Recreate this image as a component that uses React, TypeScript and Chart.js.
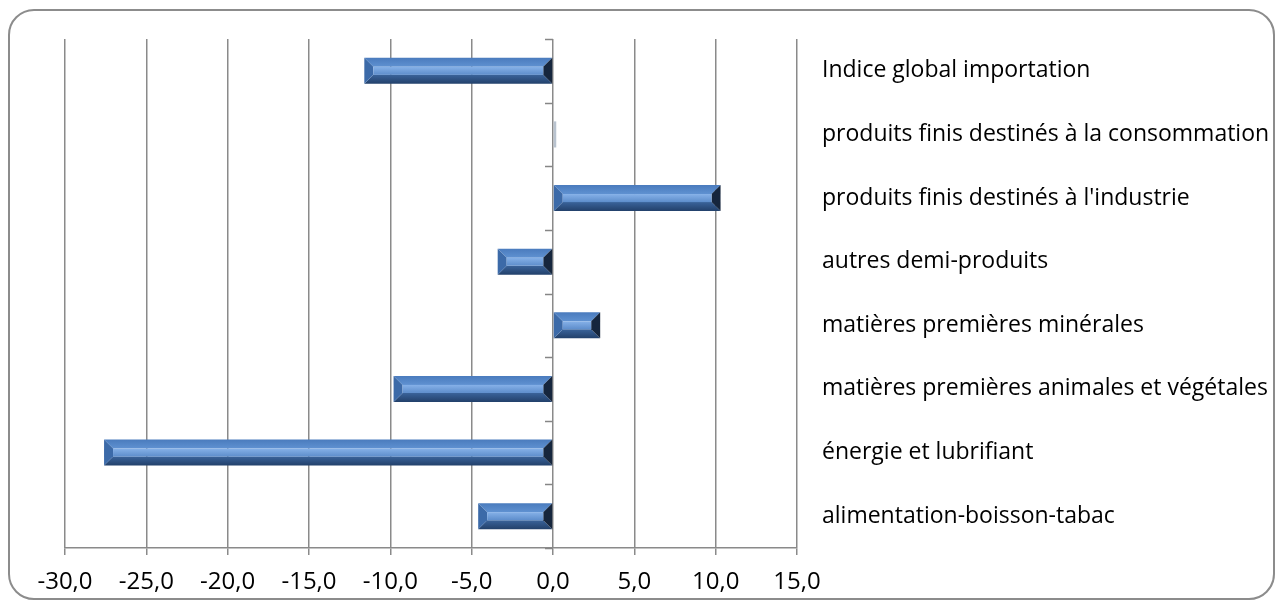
import React, { useEffect, useRef } from "react";
import { Chart, registerables } from "chart.js";

Chart.register(...registerables);

const categories: string[] = [
  "Indice global importation",
  "produits finis destinés à la consommation",
  "produits finis destinés à l'industrie",
  "autres demi-produits",
  "matières premières minérales",
  "matières premières animales et végétales",
  "énergie et lubrifiant",
  "alimentation-boisson-tabac",
];

const values: number[] = [-11.6, 0.2, 10.3, -3.4, 2.9, -9.8, -27.6, -4.6];

const xMin = -30;
const xMax = 15;
const xStep = 5;

const FONT = "'Open Sans', sans-serif";

const bevelPlugin = {
  id: "bevelBars",
  afterDatasetsDraw(chart: any) {
    const ctx: CanvasRenderingContext2D = chart.ctx;
    const meta = chart.getDatasetMeta(0);
    ctx.save();
    meta.data.forEach((el: any) => {
      const L = Math.min(el.x, el.base);
      const R = Math.max(el.x, el.base);
      const T = el.y - el.height / 2;
      const B = el.y + el.height / 2;
      const w = R - L;
      const h = B - T;
      if (w <= 0) return;
      if (w < 5) {
        ctx.fillStyle = "#b9c3cf";
        ctx.fillRect(L, T, w, h);
        return;
      }
      const bx = Math.min(9, w / 2);
      const by = Math.min(9, h / 2);
      const poly = (pts: number[][], fill: any) => {
        ctx.beginPath();
        ctx.moveTo(pts[0][0], pts[0][1]);
        for (let i = 1; i < pts.length; i++) ctx.lineTo(pts[i][0], pts[i][1]);
        ctx.closePath();
        ctx.fillStyle = fill;
        ctx.fill();
      };
      const gTop = ctx.createLinearGradient(0, T, 0, T + by);
      gTop.addColorStop(0, "#4a7bbd");
      gTop.addColorStop(1, "#5f91d1");
      poly([[L, T], [R, T], [R - bx, T + by], [L + bx, T + by]], gTop);
      const gBot = ctx.createLinearGradient(0, B - by, 0, B);
      gBot.addColorStop(0, "#3a639a");
      gBot.addColorStop(1, "#22406a");
      poly([[L, B], [R, B], [R - bx, B - by], [L + bx, B - by]], gBot);
      poly([[L, T], [L + bx, T + by], [L + bx, B - by], [L, B]], "#3c6aa8");
      poly([[R, T], [R - bx, T + by], [R - bx, B - by], [R, B]], "#16263d");
      if (h - 2 * by > 0 && w - 2 * bx > 0) {
        const gIn = ctx.createLinearGradient(0, T + by, 0, B - by);
        gIn.addColorStop(0, "#86b1e8");
        gIn.addColorStop(1, "#5d8dcb");
        ctx.fillStyle = gIn;
        ctx.fillRect(L + bx, T + by, w - 2 * bx, h - 2 * by);
      }
    });
    ctx.restore();
  },
  afterDraw(chart: any) {
    const ctx: CanvasRenderingContext2D = chart.ctx;
    const xs = chart.scales.x;
    const x0 = Math.round(xs.getPixelForValue(0));
    const top = chart.chartArea.top;
    const bottom = chart.chartArea.bottom;
    const n = categories.length;
    const step = (bottom - top) / n;
    ctx.save();
    ctx.strokeStyle = "#868686";
    ctx.lineWidth = 1.5;
    ctx.beginPath();
    for (let i = 0; i <= n; i++) {
      const y = Math.round(top + i * step) + 0.5;
      ctx.moveTo(x0 - 8, y);
      ctx.lineTo(x0, y);
    }
    ctx.stroke();
    ctx.restore();
  },
};

export default function App() {
  const ref = useRef<HTMLCanvasElement | null>(null);

  useEffect(() => {
    if (!ref.current) return;
    const chart = new Chart(ref.current, {
      type: "bar",
      data: {
        labels: categories,
        datasets: [
          {
            data: values,
            backgroundColor: "rgba(0,0,0,0)",
            borderWidth: 0,
            categoryPercentage: 1,
            barPercentage: 0.41,
          },
        ],
      },
      options: {
        indexAxis: "y",
        responsive: false,
        animation: false,
        layout: { padding: { left: 65, top: 39, right: 0, bottom: 0 } },
        plugins: {
          legend: { display: false },
          tooltip: { enabled: false },
        },
        scales: {
          x: {
            type: "linear",
            min: xMin,
            max: xMax,
            ticks: {
              stepSize: xStep,
              color: "#000",
              font: { family: FONT, size: 24 },
              padding: 13,
              callback: (v: any) => Number(v).toFixed(1).replace(".", ","),
            },
            grid: {
              color: "#8a8a8a",
              lineWidth: 1.5,
              tickLength: 7,
              drawOnChartArea: true,
            },
            border: { display: true, color: "#8a8a8a", width: 1.5 },
            afterFit: (scale: any) => {
              scale.height = 60;
            },
          },
          y: {
            type: "category",
            position: "right",
            ticks: {
              color: "#000",
              font: { family: FONT, size: 23 },
              padding: 25,
              crossAlign: "near",
            },
            grid: { display: false, drawTicks: false },
            border: { display: false },
            afterFit: (scale: any) => {
              scale.width = 486;
            },
          },
        },
      },
      plugins: [bevelPlugin],
    } as any);
    return () => chart.destroy();
  }, []);

  return (
    <div style={{ position: "fixed", left: 0, top: 0, width: 1283, height: 608, background: "#fff" }}>
      <div
        style={{
          position: "absolute",
          left: 8,
          top: 9,
          width: 1267,
          height: 591,
          boxSizing: "border-box",
          border: "2px solid #8c8c8c",
          borderRadius: 26,
        }}
      />
      <canvas
        ref={ref}
        width={1283}
        height={608}
        style={{ position: "absolute", left: 0, top: 0, width: 1283, height: 608 }}
      />
    </div>
  );
}
